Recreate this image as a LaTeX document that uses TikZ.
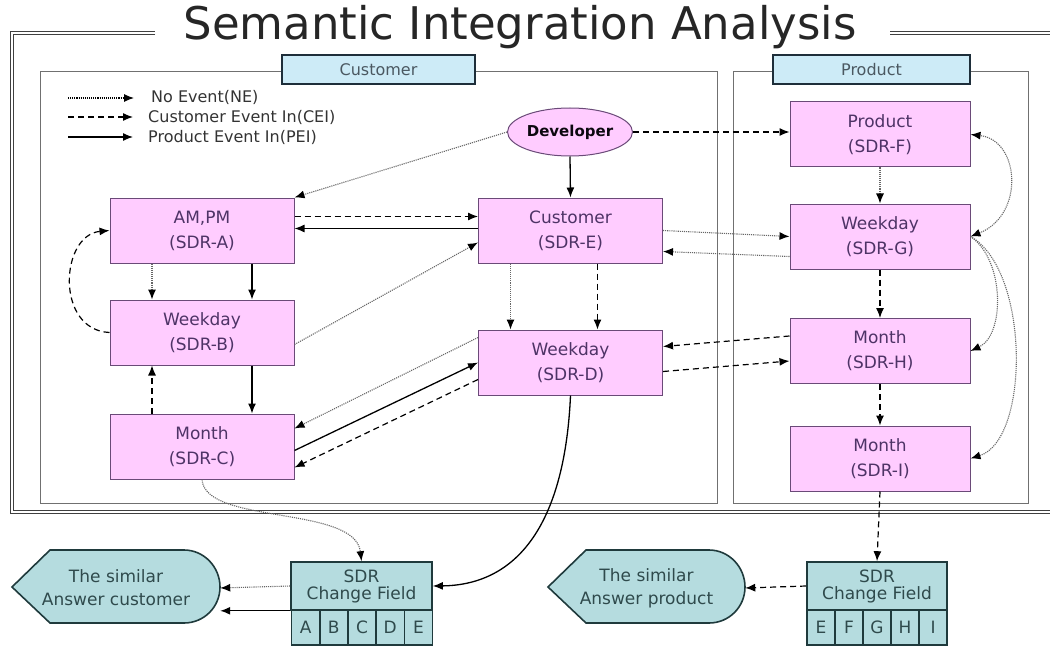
\documentclass[tikz,border=0pt]{standalone}
\usepackage{fontspec}
\setmainfont{DejaVu Sans}
\usetikzlibrary{arrows.meta,shapes.geometric}

\definecolor{boxpink}{HTML}{FFCCFF}
\definecolor{boxedge}{HTML}{6A4A78}
\definecolor{boxtext}{HTML}{4E3366}
\definecolor{tagblue}{HTML}{CDEBF7}
\definecolor{tagedge}{HTML}{1E2E3A}
\definecolor{ansteal}{HTML}{B5DCDF}
\definecolor{ansedge}{HTML}{1F3A3C}
\definecolor{anstext}{HTML}{2F4A4C}
\definecolor{panelgray}{HTML}{707070}

\begin{document}
\begin{tikzpicture}[x=1pt,y=-1pt,
  sdr/.style={rectangle,draw=boxedge,fill=boxpink,line width=1pt,minimum width=184pt,minimum height=65pt,align=center,text=boxtext,font=\fontsize{17}{25}\selectfont},
  tag/.style={rectangle,draw=tagedge,fill=tagblue,line width=1.6pt,minimum height=29pt,inner sep=0pt,text=tagedge!80,font=\fontsize{16}{18}\selectfont},
  ansbox/.style={draw=ansedge,fill=ansteal,line width=1.6pt},
  field/.style={rectangle,draw=ansedge,fill=ansteal,line width=1.6pt,inner sep=0pt,text=anstext,font=\fontsize{17}{17}\selectfont},
  legend/.style={anchor=west,inner sep=1pt,text=black!80,font=\fontsize{16}{18}\selectfont},
  ne/.style={-{Latex[length=10pt,width=8pt,black,fill=black]},line width=1.1pt,black!60,densely dotted},
  cei/.style={-{Latex[length=10pt,width=8pt]},line width=1.2pt,dash pattern=on 6pt off 4pt},
  pei/.style={-{Latex[length=10pt,width=8pt]},line width=1.3pt},
  frame/.style={double,double distance=2pt,line width=1.1pt,black!75}]

\useasboundingbox (0,0) rectangle (1050,650);

% outer frame and title
\node (title) at (520,27) [font=\fontsize{45}{48}\selectfont,text=black!85] {Semantic Integration Analysis};
\draw[frame] (155,33) -- (12,33) -- (12,512) -- (1050,512);
\draw[frame] (890,33) -- (1050,33);

% panels
\draw[panelgray,line width=1pt] (40,72) rectangle (717,503);
\draw[panelgray,line width=1pt] (733,72) rectangle (1028,503);
\node (tagC) at (378.5,69.5) [tag,minimum width=193pt] {Customer};
\node (tagP) at (871.5,69.5) [tag,minimum width=197pt] {Product};

% legend
\node (lgNE) at (150,97) [legend] {No Event(NE)};
\node (lgCEI) at (147,117) [legend] {Customer Event In(CEI)};
\node (lgPEI) at (147,137) [legend] {Product Event In(PEI)};
\coordinate (lgNEs) at (68,98);
\coordinate (lgCEIs) at (68,117);
\coordinate (lgPEIs) at (68,137);
\draw[ne,black,shorten >=16pt] (lgNEs) -- (lgNEs -| lgNE.west);
\draw[cei,shorten >=14pt] (lgCEIs) -- (lgCEI.west);
\draw[pei,shorten >=14pt] (lgPEIs) -- (lgPEI.west);

% customer side
\node (dev) at (570,132) [ellipse,draw=boxedge,fill=boxpink,line width=1pt,minimum width=125pt,minimum height=48pt,inner sep=0pt,text=black!85!boxtext,font=\bfseries\fontsize{15}{17}\selectfont] {Developer};

\node (sdrA) at (202,230.5) [sdr] {AM,PM\\(SDR-A)};
\node (sdrB) at (202,332.5) [sdr] {Weekday\\(SDR-B)};
\node (sdrC) at (202,446.5) [sdr] {Month\\(SDR-C)};
\node (sdrE) at (570.5,230.5) [sdr] {Customer\\(SDR-E)};
\node (sdrD) at (570.5,362.5) [sdr] {Weekday\\(SDR-D)};

% product side
\node (sdrF) at (880,134.5) [sdr,minimum width=180pt] {Product\\(SDR-F)};
\node (sdrG) at (880,236.5) [sdr,minimum width=180pt] {Weekday\\(SDR-G)};
\node (sdrH) at (880,351) [sdr,minimum width=180pt] {Month\\(SDR-H)};
\node (sdrI) at (880,458.5) [sdr,minimum width=180pt] {Month\\(SDR-I)};

% change fields and answers
\node (cfC) at (361.5,586) [field,minimum width=141pt,minimum height=48pt,align=center,font=\fontsize{17}{17}\selectfont] {SDR\\Change Field};
\node (cA) at (305.6,627.5) [field,minimum width=28.2pt,minimum height=35pt] {A};
\node (cB) at (333.8,627.5) [field,minimum width=28.2pt,minimum height=35pt] {B};
\node (cC) at (362.0,627.5) [field,minimum width=28.2pt,minimum height=35pt] {C};
\node (cD) at (390.2,627.5) [field,minimum width=28.2pt,minimum height=35pt] {D};
\node (cE) at (418.4,627.5) [field,minimum width=28.2pt,minimum height=35pt] {E};

\node (cfP) at (877,586) [field,minimum width=140pt,minimum height=48pt,align=center,font=\fontsize{17}{17}\selectfont] {SDR\\Change Field};
\node (pE) at (821,627.5) [field,minimum width=28pt,minimum height=35pt] {E};
\node (pF) at (849,627.5) [field,minimum width=28pt,minimum height=35pt] {F};
\node (pG) at (877,627.5) [field,minimum width=28pt,minimum height=35pt] {G};
\node (pH) at (905,627.5) [field,minimum width=28pt,minimum height=35pt] {H};
\node (pI) at (933,627.5) [field,minimum width=28pt,minimum height=35pt] {I};

\draw[ansbox] (12,587) -- (50,550) -- (184,550) .. controls (204,550) and (220,567) .. (220,587) .. controls (220,607) and (204,623) .. (184,623) -- (50,623) -- cycle;
\node (ansC) at (116,588) [minimum width=208pt,minimum height=73pt,inner sep=0pt,align=center,text=anstext,font=\fontsize{17}{23}\selectfont] {The similar\\Answer customer};
\draw[ansbox] (548,587) -- (586,550) -- (709,550) .. controls (729,550) and (745,567) .. (745,587) .. controls (745,607) and (729,623) .. (709,623) -- (586,623) -- cycle;
\node (ansP) at (646.5,588) [minimum width=197pt,minimum height=73pt,inner sep=0pt,align=center,text=anstext,font=\fontsize{17}{23}\selectfont] {The similar\\Answer product};

% developer
\draw[ne] (dev.west) -- (sdrA.north east);
\draw[pei] (dev.south) -- (sdrE.north);
\draw[cei] (dev.east) -- (dev.east -| sdrF.west);

% left column
\draw[cei] ([yshift=14]sdrA.east) -- ([yshift=14]sdrE.west);
\draw[pei] ([yshift=2]sdrE.west) -- ([yshift=2]sdrA.east);
\draw[ne] ([yshift=-12]sdrB.east) -- ([yshift=-12]sdrE.west);
\draw[ne] ([xshift=-50]sdrA.south) -- ([xshift=-50]sdrB.north);
\draw[pei] ([xshift=50]sdrA.south) -- ([xshift=50]sdrB.north);
\draw[cei] ([xshift=-50]sdrC.north) -- ([xshift=-50]sdrB.south);
\draw[pei] ([xshift=50]sdrB.south) -- ([xshift=50]sdrC.north);
\draw[cei] (sdrB.west) .. controls (55,330) and (60,235) .. (sdrA.west);

% D and C
\draw[ne] ([yshift=25]sdrD.west) -- ([yshift=18]sdrC.east);
\draw[pei] ([yshift=-4]sdrC.east) -- (sdrD.west);
\draw[cei] ([yshift=-17]sdrD.west) -- ([yshift=-21]sdrC.east);
\draw[ne] ([xshift=-60]sdrE.south) -- ([xshift=-60]sdrD.north);
\draw[cei] ([xshift=27]sdrE.south) -- ([xshift=27]sdrD.north);

% across panels
\draw[ne] (sdrE.east) -- (sdrG.west);
\draw[ne] ([yshift=-20]sdrG.west) -- ([yshift=-21]sdrE.east);
\draw[cei] ([yshift=15]sdrH.west) -- ([yshift=16]sdrD.east);
\draw[cei] ([yshift=-9]sdrD.east) -- ([yshift=-10]sdrH.west);

% product column
\draw[ne] (sdrF.south) -- (sdrG.north);
\draw[cei] (sdrG.south) -- (sdrH.north);
\draw[cei] (sdrH.south) -- (sdrI.north);
\draw[cei] (sdrI.south) -- (cfP.north);
\draw[ne,{Latex[length=10pt,width=8pt,black,fill=black]}-{Latex[length=10pt,width=8pt,black,fill=black]}] (sdrG.east) .. controls (1025,215) and (1020,140) .. (sdrF.east);
\draw[ne] (sdrG.east) .. controls (1005,260) and (1005,335) .. (sdrH.east);
\draw[ne] (sdrG.east) .. controls (1030,270) and (1030,440) .. (sdrI.east);

% to change fields
\draw[ne] (sdrC.south) .. controls (205,525) and (355,505) .. (cfC.north);
\draw[pei] (sdrD.south) .. controls (565,520) and (520,585) .. (cfC.east);
\draw[ne] (cfC.west) -- (ansC.east);
\draw[pei] (cfC.south west) -- (cfC.south west -| ansC.east);
\draw[cei] (cfP.west) -- (ansP.east);

\end{tikzpicture}
\end{document}
